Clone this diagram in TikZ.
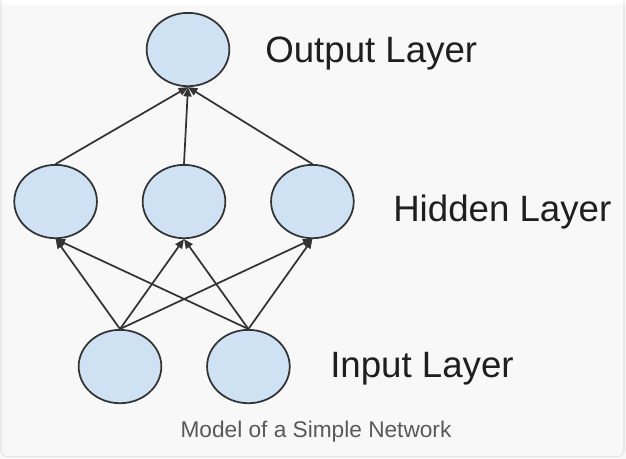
\documentclass[tikz,border=0pt]{standalone}
\usepackage{fontspec}
\setmainfont{Liberation Sans}
\usetikzlibrary{shapes.geometric, arrows.meta, positioning}
\definecolor{neuronfill}{HTML}{CFE2F3}
\definecolor{neuronline}{HTML}{333333}
\definecolor{panelbg}{HTML}{F8F8F8}
\definecolor{panelline}{HTML}{E4E4E4}
\tikzstyle{neuron} = [
  ellipse, draw=neuronline, line width=1.3pt, fill=neuronfill,
  minimum width=62pt, minimum height=55pt, inner sep=0pt
]
\tikzstyle{arrow} = [line width=1.3pt, draw=neuronline, -{Triangle[length=7pt, width=6pt]}]

\begin{document}
\begin{tikzpicture}[
    x=0.75pt, y=-0.75pt,
    node distance=33pt,
    layerlabel/.style={anchor=base west, font=\fontsize{27.5}{30}\selectfont, text=black!88, inner sep=0pt},
    caption/.style={anchor=base, font=\fontsize{17}{20}\selectfont, text=black!65, inner sep=0pt}
]
    % Panel
    \fill[panelbg] (0,0) rectangle (626,454);
    \draw[panelline, line width=0.8pt, rounded corners=4pt] (1,-4) |- (624,452) -- (624,-4);
    \useasboundingbox (0,0) rectangle (626,454);

    % Output layer
    \node[neuron] (out) at (188,45) {};

    % Hidden layer
    \node[neuron] (hid2) at (184,197) {};
    \node[neuron, left=of hid2] (hid1) {};
    \node[neuron, right=of hid2] (hid3) {};

    % Input layer
    \node[neuron] (in1) at (120,362) {};
    \node[neuron, right=of in1] (in2) {};

    % Labels
    \node[layerlabel] (outlab) at (265,58) {Output Layer};
    \node[layerlabel] (hidlab) at (393,217) {Hidden Layer};
    \node[layerlabel] (inlab) at (330,373) {Input Layer};
    \node[caption] (cap) at (316,433) {Model of a Simple Network};

    % Hidden -> output
    \foreach \h in {hid1, hid2, hid3}
        \draw[arrow] (\h.north) -- (out.south);

    % Input -> hidden
    \foreach \i in {in1, in2}
        \foreach \h in {hid1, hid2, hid3}
            \draw[arrow] (\i.north) -- (\h.south);

\end{tikzpicture}
\end{document}
